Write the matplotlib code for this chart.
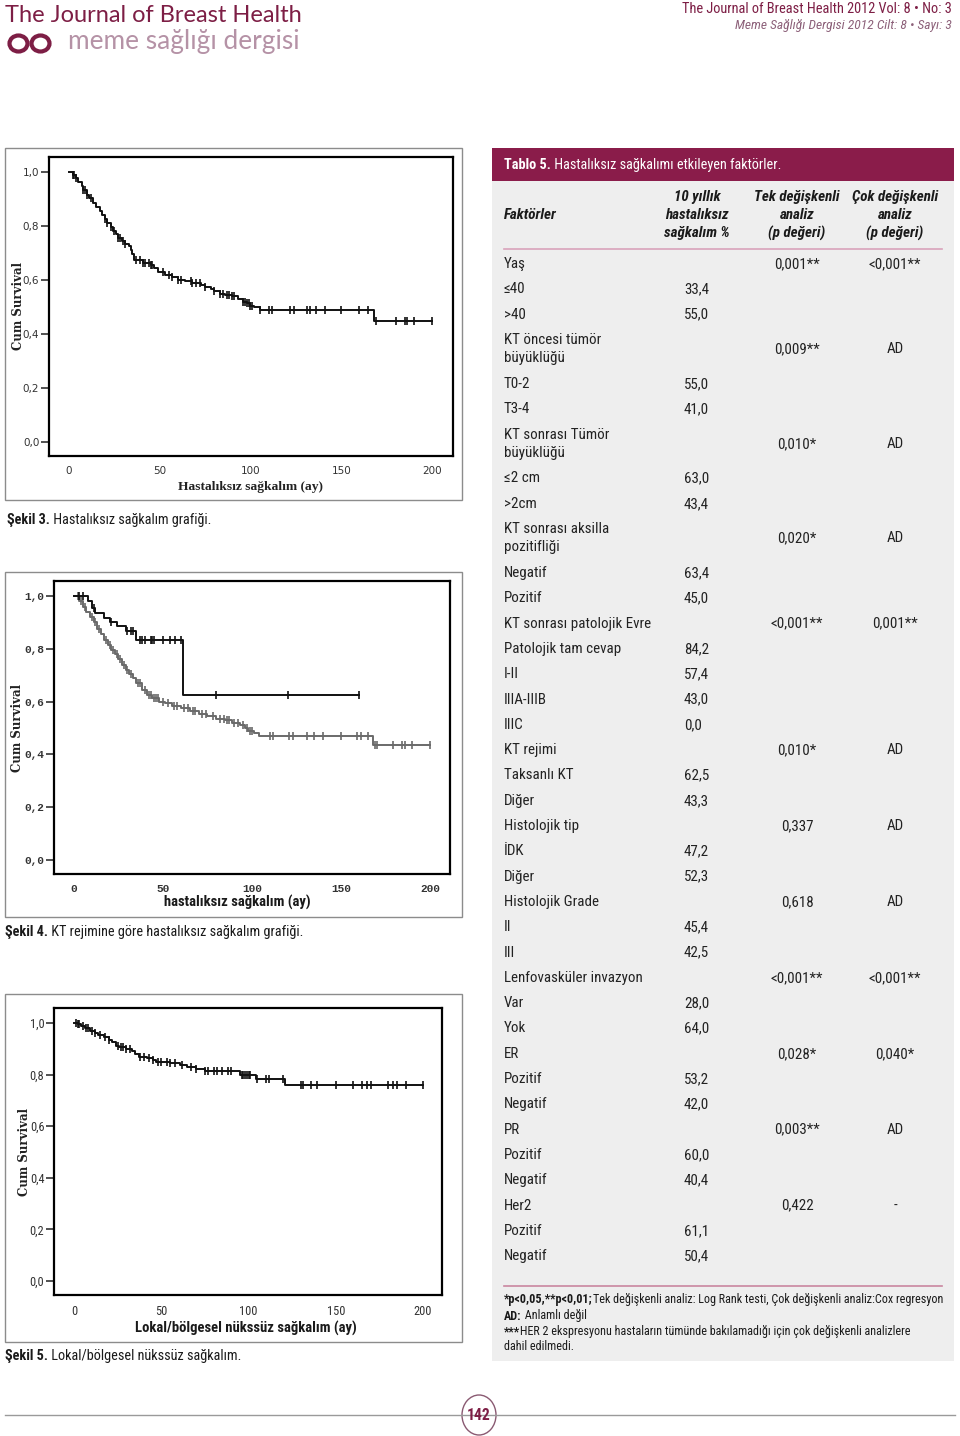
import numpy as np
import matplotlib.pyplot as plt
from matplotlib.patches import Rectangle, Ellipse

W, H = 960, 1436
MAROON = '#7d1e45'
NARROW = ['Roboto Condensed', 'Liberation Sans Narrow', 'Open Sans Condensed',
          'Liberation Sans', 'DejaVu Sans']
SERIF = ['Liberation Serif', 'DejaVu Serif']

# ---- Şekil 3: hastalıksız sağkalım
dfs_t = [0, 2, 4, 5, 7, 8, 10, 11, 13, 15, 17, 18, 20, 21, 23, 24, 26, 27, 29, 31,
         33, 34, 35, 36, 41, 45, 47, 49, 53, 57, 60, 64, 68, 73, 75, 78, 80, 83, 86, 90,
         93, 96, 98, 100, 102, 105, 168]
dfs_s = [1.0, 0.99, 0.98, 0.965, 0.95, 0.935, 0.915, 0.905, 0.885, 0.87, 0.855, 0.84, 0.825, 0.81,
         0.795, 0.78, 0.77, 0.755, 0.745, 0.735, 0.725, 0.71, 0.695, 0.675, 0.665, 0.655, 0.645,
         0.63, 0.62, 0.61, 0.60, 0.595, 0.59, 0.58, 0.575, 0.565, 0.56, 0.55, 0.545, 0.54,
         0.53, 0.52, 0.515, 0.505, 0.50, 0.489, 0.448]
dfs_end = 200
dfs_cens = [2, 3, 4, 8, 9, 10, 12, 20, 21, 23, 25, 27, 28, 30, 31, 37, 39, 41, 42, 44, 45, 46,
            52, 55, 57, 60, 62, 67, 68, 70, 72, 75, 80, 83, 85, 87, 88, 90, 91, 96, 97, 98, 99,
            100, 101, 105, 110, 112, 122, 124, 131, 133, 136, 141, 150, 160, 165,
            169, 180, 185, 186, 190, 200]

# ---- Şekil 4: KT rejimine göre
alan_t = [0, 8, 10, 12, 17, 20, 24, 29, 35, 61]
alan_s = [1.0, 0.98, 0.955, 0.935, 0.915, 0.9, 0.885, 0.866, 0.834, 0.626]
alan_end = 160
alan_cens = [3, 5, 11, 21, 30, 32, 33, 37, 38, 40, 43, 44, 45, 50, 54, 57, 60, 80, 120, 160]

almayan_t = [0, 3, 5, 7, 9, 11, 13, 15, 17, 19, 21, 23, 25, 27, 29, 31, 33, 35, 38, 41,
             44, 48, 51, 55, 60, 65, 70, 75, 80, 85, 89, 93, 96, 98, 101, 104, 168]
almayan_s = [1.0, 0.98, 0.96, 0.94, 0.92, 0.9, 0.875, 0.855, 0.835, 0.815, 0.795, 0.78, 0.76,
             0.74, 0.72, 0.705, 0.69, 0.67, 0.645, 0.625, 0.615, 0.6, 0.593, 0.585, 0.575,
             0.565, 0.555, 0.545, 0.535, 0.53, 0.52, 0.51, 0.5, 0.49, 0.48, 0.47, 0.434]
almayan_end = 200
almayan_cens = [2, 4, 6, 10, 12, 14, 18, 20, 22, 24, 26, 28, 30, 32, 36, 37, 40, 42, 43, 45, 46,
                47, 50, 53, 56, 58, 62, 64, 67, 68, 72, 74, 78, 82, 84, 86, 87, 90, 92, 95, 97,
                99, 100, 110, 112, 121, 123, 131, 135, 140, 150, 159, 161, 165,
                169, 170, 179, 184, 186, 190, 200]

# ---- Şekil 5: lokal/bölgesel nükssüz sağkalım
lrfs_t = [0, 2, 4, 6, 9, 12, 14, 17, 20, 22, 24, 26, 30, 33, 35, 37, 42, 45, 47, 55,
          61, 65, 70, 75, 95, 104, 121]
lrfs_s = [1.0, 0.995, 0.99, 0.98, 0.97, 0.96, 0.953, 0.945, 0.935, 0.925, 0.912, 0.905, 0.898,
          0.89, 0.88, 0.87, 0.865, 0.857, 0.847, 0.843, 0.837, 0.83, 0.822, 0.812, 0.798,
          0.782, 0.76]
lrfs_end = 200
lrfs_cens = [1, 2, 3, 5, 7, 8, 10, 12, 15, 18, 20, 25, 27, 28, 30, 32, 38, 40, 43, 45, 48, 50,
             53, 55, 58, 62, 67, 70, 75, 77, 80, 82, 85, 88, 90, 96, 97, 98, 99, 100, 101,
             105, 110, 112, 120, 130, 131, 136, 139, 150, 160, 165, 168, 170, 180, 183, 185,
             190, 200]

# ---- Tablo 5
factors = ['Yaş', '≤40', '>40', 'KT öncesi tümör\nbüyüklüğü', 'T0-2', 'T3-4',
           'KT sonrası Tümör\nbüyüklüğü', '≤2 cm', '>2cm', 'KT sonrası aksilla\npozitifliği',
           'Negatif', 'Pozitif', 'KT sonrası patolojik Evre', 'Patolojik tam cevap', 'I-II',
           'IIIA-IIIB', 'IIIC', 'KT rejimi', 'Taksanlı KT', 'Diğer', 'Histolojik tip', 'İDK',
           'Diğer', 'Histolojik Grade', 'II', 'III', 'Lenfovasküler invazyon', 'Var', 'Yok',
           'ER', 'Pozitif', 'Negatif', 'PR', 'Pozitif', 'Negatif', 'Her2', 'Pozitif', 'Negatif']
dfs10 = ['', '33,4', '55,0', '', '55,0', '41,0', '', '63,0', '43,4', '', '63,4', '45,0', '',
         '84,2', '57,4', '43,0', '0,0', '', '62,5', '43,3', '', '47,2', '52,3', '', '45,4',
         '42,5', '', '28,0', '64,0', '', '53,2', '42,0', '', '60,0', '40,4', '', '61,1', '50,4']
p_uni = ['0,001**', '', '', '0,009**', '', '', '0,010*', '', '', '0,020*', '', '', '<0,001**',
         '', '', '', '', '0,010*', '', '', '0,337', '', '', '0,618', '', '', '<0,001**', '', '',
         '0,028*', '', '', '0,003**', '', '', '0,422', '', '']
p_multi = ['<0,001**', '', '', 'AD', '', '', 'AD', '', '', 'AD', '', '', '0,001**', '', '', '',
           '', 'AD', '', '', 'AD', '', '', 'AD', '', '', '<0,001**', '', '', '0,040*', '', '',
           'AD', '', '', '-', '', '']

fig = plt.figure(figsize=(W / 100, H / 100), dpi=100)
pg = fig.add_axes([0, 0, 1, 1])
pg.set_xlim(0, W)
pg.set_ylim(H, 0)
pg.axis('off')
renderer = fig.canvas.get_renderer()


def fit(parts, width, **kw):
    # font size that makes the given (text, weight) parts span `width` pixels
    total = 0
    for txt, wt in parts:
        t = pg.text(0, 0, txt, fontsize=10, fontweight=wt, **kw)
        total += t.get_window_extent(renderer).width
        t.remove()
    return 10 * width / total


def two_part(x, y, bold, rest, width, color='#1a1a1a', style='normal'):
    size = fit([(bold, 'bold'), (rest, 'normal')], width, family=NARROW, style=style)
    t1 = pg.text(x, y, bold, fontsize=size, family=NARROW, fontweight='bold', color=color,
                 ha='left', va='center', style=style)
    pg.annotate(rest, xy=(1, 0), xycoords=t1, fontsize=size, family=NARROW, color=color,
                ha='left', va='bottom', style=style)
    return size


# header
LATO = ['Lato', 'DejaVu Sans']
pg.text(5, 15, 'The Journal of Breast Health', fontsize=17, family=LATO,
        color=MAROON, va='center', ha='left')
pg.text(68, 42, 'meme sağlığı dergisi',
        fontsize=fit([('meme sağlığı dergisi', 'normal')], 230, family=LATO),
        family=LATO, color='#b592a6', va='center', ha='left')
for cx in (18.5, 40.5):
    pg.add_patch(Ellipse((cx, 43.5), 18, 16, fill=False, ec=MAROON, lw=3.0))
s1 = 'The Journal of Breast Health 2012 Vol: 8 • No: 3'
pg.text(952, 9, s1, fontsize=fit([(s1, 'normal')], 270, family=NARROW),
        family=NARROW, color=MAROON, ha='right', va='center')
s2 = 'Meme Sağlığı Dergisi 2012 Cilt: 8 • Sayı: 3'
pg.text(952, 25, s2, fontsize=fit([(s2, 'normal')], 215, family=NARROW, style='italic'),
        family=NARROW, color='#8c6079', ha='right', va='center', style='italic')

# figure frames
for (y0, y1) in [(148, 500), (572, 917), (994, 1342)]:
    pg.add_patch(Rectangle((5, y0), 457, y1 - y0, fc='white', ec='#8c8c8c', lw=1))

two_part(7, 520, 'Şekil 3.', ' Hastalıksız sağkalım grafiği.', 205)
two_part(5, 932, 'Şekil 4.', ' KT rejimine göre hastalıksız sağkalım grafiği.', 300)
two_part(5, 1356, 'Şekil 5.', ' Lokal/bölgesel nükssüz sağkalım.', 238)


def km_axes(x0, y0, x1, y1, xlim, ylim, tick_font, tick_size, tick_weight):
    ax = fig.add_axes([x0 / W, 1 - y1 / H, (x1 - x0) / W, (y1 - y0) / H])
    ax.set_xlim(xlim)
    ax.set_ylim(ylim)
    for sp in ax.spines.values():
        sp.set_linewidth(1.6)
    ax.set_xticks([0, 50, 100, 150, 200])
    ax.set_yticks([0, 0.2, 0.4, 0.6, 0.8, 1.0])
    ax.set_yticklabels(['0,0', '0,2', '0,4', '0,6', '0,8', '1,0'])
    ax.tick_params(axis='y', length=6, width=1.2, pad=1, color='#333333')
    ax.tick_params(axis='x', length=0, pad=7)
    for lab in ax.get_xticklabels() + ax.get_yticklabels():
        lab.set_family(tick_font)
        lab.set_fontsize(tick_size)
        lab.set_fontweight(tick_weight)
        lab.set_color('#333333')
    return ax


def km_curve(ax, t, s, end, cens, color):
    tt = list(t) + [end]
    ss = list(s) + [s[-1]]
    ax.step(tt, ss, where='post', color=color, lw=1.4)
    idx = np.searchsorted(t, cens, side='right') - 1
    ax.plot(cens, np.asarray(s)[idx], ls='none', marker='|', ms=6, mew=1.2, color=color)


ax3 = km_axes(49, 157, 453, 456, (-11.0, 211.6), (-0.052, 1.056),
              ['DejaVu Sans'], 7.5, 'normal')
km_curve(ax3, dfs_t, dfs_s, dfs_end, dfs_cens, '#111111')
pg.text(19, 306, 'Cum Survival', rotation=90, fontsize=8.5, family=['DejaVu Serif'],
        fontweight='bold', color='#222222', ha='center', va='center')
pg.text(251, 487, 'Hastalıksız sağkalım (ay)', fontsize=9.7, family=SERIF,
        fontweight='bold', color='#222222', ha='center', va='center')

ax4 = km_axes(54, 581, 450, 874, (-11.2, 211.2), (-0.053, 1.057),
              ['Liberation Mono', 'DejaVu Sans Mono'], 8, 'bold')
km_curve(ax4, almayan_t, almayan_s, almayan_end, almayan_cens, '#6a6a6a')
km_curve(ax4, alan_t, alan_s, alan_end, alan_cens, '#111111')
pg.text(18, 728, 'Cum Survival', rotation=90, fontsize=8.5, family=['DejaVu Serif'],
        fontweight='bold', color='#222222', ha='center', va='center')
x4 = 'hastalıksız sağkalım (ay)'
pg.text(237, 902, x4, fontsize=fit([(x4, 'bold')], 146, family=NARROW), family=NARROW,
        fontweight='bold', color='#1a1a1a', ha='center', va='center')
pg.text(309, 666, 'Taksanlı KT', fontsize=10, family=SERIF, ha='center', va='center', color='#222')
pg.text(309, 679, 'alan', fontsize=10, family=SERIF, ha='center', va='center', color='#222')
pg.text(361, 710, 'p=0,010', fontsize=10, family=SERIF, fontweight='bold', ha='center',
        va='center', color='#222')
pg.text(325, 758, 'Taksanlı KT', fontsize=10, family=SERIF, ha='center', va='center', color='#222')
pg.text(326, 771, 'almayan', fontsize=10, family=SERIF, ha='center', va='center', color='#222')

ax5 = km_axes(54, 1008, 442, 1295, (-11.5, 210.9), (-0.054, 1.058), NARROW,
              fit([('200', 'normal')], 18, family=NARROW), 'normal')
km_curve(ax5, lrfs_t, lrfs_s, lrfs_end, lrfs_cens, '#111111')
pg.text(25, 1152, 'Cum Survival', rotation=90, fontsize=8.5, family=['DejaVu Serif'],
        fontweight='bold', color='#222222', ha='center', va='center')
x5 = 'Lokal/bölgesel nükssüz sağkalım (ay)'
pg.text(246, 1328, x5, fontsize=fit([(x5, 'bold')], 221, family=NARROW), family=NARROW,
        fontweight='bold', color='#1a1a1a', ha='center', va='center')

# table
pg.add_patch(Rectangle((492, 181), 462, 1180, fc='#eeeeee', ec='none'))
pg.add_patch(Rectangle((492, 148), 462, 33, fc='#8a1c4a', ec='none'))
two_part(504, 165, 'Tablo 5.', ' Hastalıksız sağkalımı etkileyen faktörler.', 276, color='white')

hsize = fit([('Tek değişkenli', 'bold')], 86, family=NARROW, style='italic')
hdr = dict(fontsize=hsize, family=NARROW, fontweight='bold', style='italic', color='#1a1a1a',
           va='center')
pg.text(504, 215, 'Faktörler', ha='left', **hdr)
for cx, lines in [(697, ['10 yıllık', 'hastalıksız', 'sağkalım %']),
                  (797, ['Tek değişkenli', 'analiz', '(p değeri)']),
                  (895, ['Çok değişkenli', 'analiz', '(p değeri)'])]:
    for k, ln in enumerate(lines):
        pg.text(cx, 197 + 18 * k, ln, ha='center', **hdr)
pg.plot([504, 942], [249, 249], color='#d9a3bb', lw=1.2)
pg.plot([504, 942], [1286, 1286], color='#c9869f', lw=1.2)

csize = fit([('KT sonrası patolojik Evre', 'normal')], 146, family=NARROW)
cell = dict(fontsize=csize, family=NARROW, color='#222222', va='center')
y = 264 - 25.3 / 2
for lab, pct, pu, pm in zip(factors, dfs10, p_uni, p_multi):
    h = 44 if '\n' in lab else 25.3
    yc = y + h / 2
    parts = lab.split('\n')
    for k, ln in enumerate(parts):
        pg.text(504, yc + (k - (len(parts) - 1) / 2) * 18, ln, ha='left', **cell)
    pg.text(684, yc, pct, ha='left', **cell)
    pg.text(797, yc, pu, ha='center', **cell)
    pg.text(895, yc, pm, ha='center', **cell)
    y += h

fsize = two_part(504, 1300, '*p<0,05,**p<0,01;',
                 'Tek değişkenli analiz: Log Rank testi, Çok değişkenli analiz:Cox regresyon', 436)
t_ad = pg.text(504, 1316, 'AD:', fontsize=fsize, family=NARROW, fontweight='bold',
               color='#1a1a1a', va='center')
pg.annotate(' Anlamlı değil', xy=(1, 0), xycoords=t_ad, fontsize=fsize, family=NARROW,
            color='#1a1a1a', va='bottom')
t_her = pg.text(504, 1332, '***', fontsize=fsize, family=NARROW, fontweight='bold',
                color='#1a1a1a', va='center')
pg.annotate('HER 2 ekspresyonu hastaların tümünde bakılamadığı için çok değişkenli analizlere',
            xy=(1, 0), xycoords=t_her, fontsize=fsize, family=NARROW, color='#1a1a1a',
            va='bottom')
pg.text(504, 1347, 'dahil edilmedi.', fontsize=fsize, family=NARROW, color='#1a1a1a',
        va='center')

# footer
pg.plot([5, 955], [1415, 1415], color='#9a9a9a', lw=1)
pg.add_patch(Ellipse((479, 1415), 34, 40, fc='white', ec='#8a5a72', lw=1))
pg.text(479, 1415, '142', fontsize=fit([('142', 'bold')], 24, family=NARROW), family=NARROW,
        fontweight='bold', color=MAROON, ha='center', va='center')

fig.savefig('out.png', dpi=100)
